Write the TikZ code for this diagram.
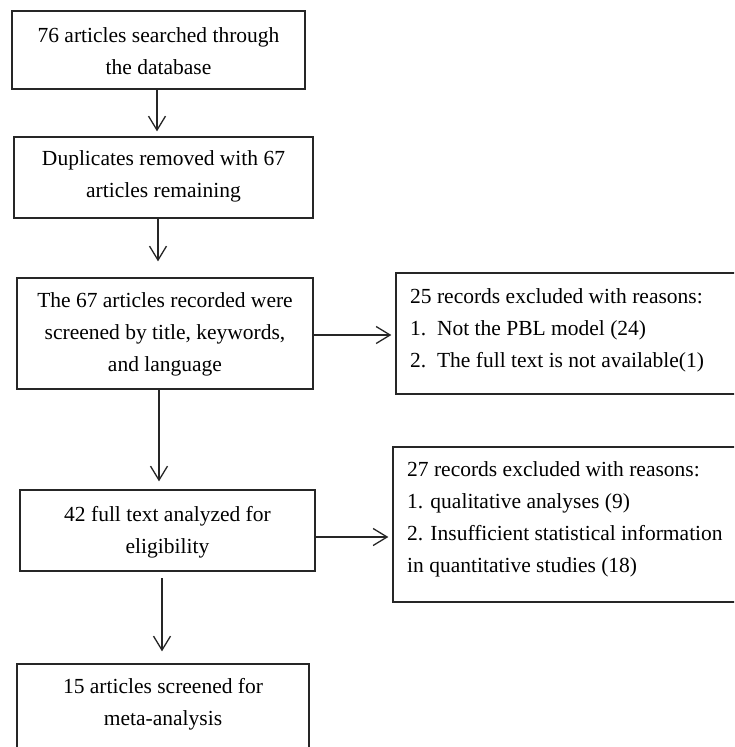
\documentclass[tikz,border=0pt]{standalone}
\usepackage{fontspec}
\setmainfont{Liberation Serif}
\usetikzlibrary{arrows.meta}
\tikzset{
  boxs/.style={draw=black!85, line width=1.3pt, inner sep=0pt},
  txt/.style={inner sep=0pt, font=\fontsize{21.5pt}{32pt}\selectfont},
  arr/.style={draw=black!85, line width=1.3pt, -{Straight Barb[length=14pt,width=17pt,line width=1.3pt]}}
}
\begin{document}
\begin{tikzpicture}[x=1pt,y=-1pt]
\useasboundingbox (0,0) rectangle (734,747);
\clip (0,0) rectangle (734,747);
\fill[white] (0,0) rectangle (734,747);
% boxes
\node[boxs, minimum width=293pt, minimum height=78pt] (b1) at (158.5,50) {};
\node[boxs, minimum width=299pt, minimum height=81pt] (b2) at (163.5,177.5) {};
\node[boxs, minimum width=296pt, minimum height=111pt] (b3) at (165,333.5) {};
\node[boxs, minimum width=295pt, minimum height=81pt] (b4) at (167.5,530.5) {};
\node[boxs, minimum width=292pt, minimum height=106pt] (b5) at (163,717) {};
\node[boxs, minimum width=364pt, minimum height=121pt] (r1) at (578,333.5) {};
\node[boxs, minimum width=367pt, minimum height=155pt] (r2) at (576.5,524.5) {};
% texts
\node[txt, align=center] (t1) at (158.5,51.5) {76 articles searched through\\the database};
\node[txt, align=center] (t2) at (163.5,176) {Duplicates removed with 67\\articles remaining};
\node[txt, align=center] (t3) at (165,334) {The 67 articles recorded were\\screened by title, keywords,\\and language};
\node[txt, align=center] (t4) at (167.5,532) {42 full text analyzed for\\eligibility};
\node[txt, align=center] (t5) at (163,704) {15 articles screened for\\meta-analysis};
\node[txt, align=left, anchor=west] (tr1) at (410,330) {25 records excluded with reasons:\\1.\ \ Not the PBL model (24)\\2.\ \ The full text is not available(1)};
\node[txt, align=left, anchor=west] (tr2) at (407,519) {27 records excluded with reasons:\\1. qualitative analyses (9)\\2. Insufficient statistical information\\in quantitative studies (18)};
% connectors
\coordinate (c1) at (157,89);
\coordinate (c2) at (158,218);
\coordinate (c4) at (159,389);
\coordinate (c6) at (162,578);
\draw[arr, shorten >=5pt] (c1) -- (c1 |- b2.north);
\draw[arr, shorten >=16pt] (c2) -- (c2 |- b3.north);
\draw[arr, shorten >=4pt] ([yshift=-1.5pt]b3.east) -- ([yshift=-1.5pt]b3.east -| r1.west);
\draw[arr, shorten >=8pt] (c4) -- (c4 |- b4.north);
\draw[arr, shorten >=4pt] ([yshift=-6.5pt]b4.east) -- ([yshift=-6.5pt]b4.east -| r2.west);
\draw[arr, shorten >=12pt] (c6) -- (c6 |- b5.north);
\end{tikzpicture}
\end{document}
